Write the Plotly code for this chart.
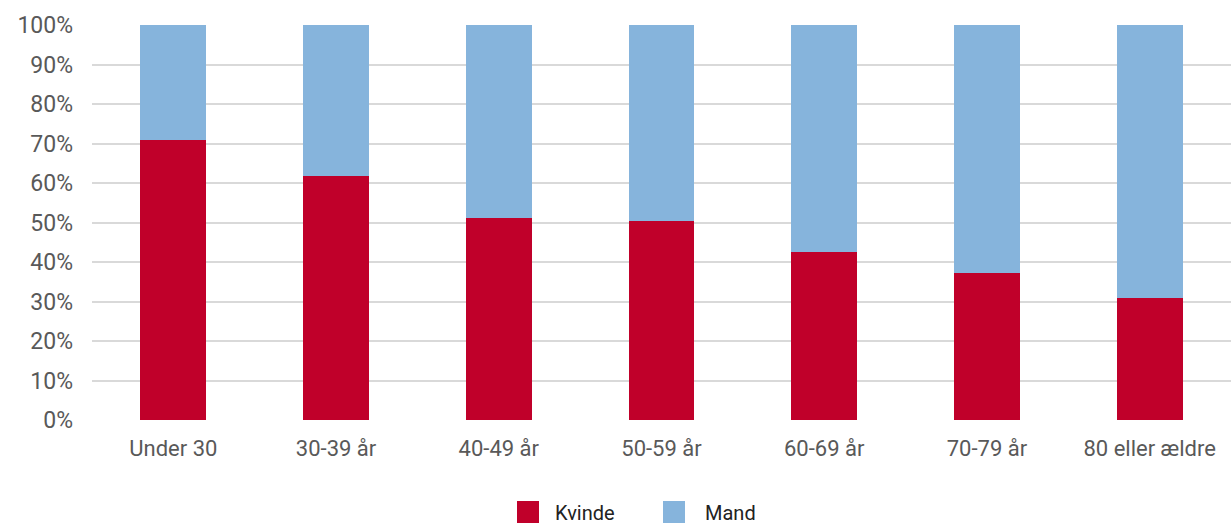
import plotly.graph_objects as go

categories = ["Under 30", "30-39 år", "40-49 år", "50-59 år", "60-69 år", "70-79 år", "80 eller ældre"]
kvinde = [0.709, 0.617, 0.512, 0.505, 0.426, 0.372, 0.309]
mand = [1 - v for v in kvinde]
series_names = ["Kvinde", "Mand"]
series_colors = ["#C0002A", "#86B4DC"]

W, H = 1231, 524
L, R, T, B = 92, 0, 25, 104
pw, ph = W - L - R, H - T - B

fig = go.Figure()
fig.add_trace(go.Bar(x=categories, y=kvinde, name=series_names[0], marker=dict(color=series_colors[0], line=dict(width=0))))
fig.add_trace(go.Bar(x=categories, y=mand, name=series_names[1], marker=dict(color=series_colors[1], line=dict(width=0))))

def px_x(p):
    return (p - L) / pw

def px_y(p):
    return (H - B - p) / ph

# manual legend (large square swatches)
legend_items = [(517, 553), (663, 703)]
for (sx, tx), name, col in zip(legend_items, series_names, series_colors):
    fig.add_shape(type="rect", xref="paper", yref="paper",
                  x0=px_x(sx), x1=px_x(sx + 22), y0=px_y(523), y1=px_y(501),
                  fillcolor=col, line=dict(width=0))
    fig.add_annotation(xref="paper", yref="paper", x=px_x(tx), y=px_y(513),
                       xanchor="left", yanchor="middle", text=name, showarrow=False,
                       font=dict(size=20, color="#222222"))

fig.update_layout(
    barmode="stack",
    bargap=0.595,
    width=W, height=H,
    margin=dict(l=L, r=R, t=T, b=B, autoexpand=False),
    plot_bgcolor="white", paper_bgcolor="white",
    font=dict(family="Roboto, sans-serif", color="#595959", size=23),
    showlegend=False,
)
fig.update_yaxes(range=[0, 1], tickformat=".0%", dtick=0.1, gridcolor="#d9d9d9", gridwidth=2,
                 zeroline=False, showline=False, ticks="", automargin=False, ticklabelstandoff=18,
                 tickfont=dict(size=23, color="#595959"))
fig.update_xaxes(showgrid=False, showline=False, ticks="", automargin=False, ticklabelstandoff=13,
                 tickfont=dict(size=22, color="#595959"))

fig.write_html("out.html", config={"displayModeBar": False},
               post_script="document.body.style.margin='0';document.body.style.overflow='hidden';")
